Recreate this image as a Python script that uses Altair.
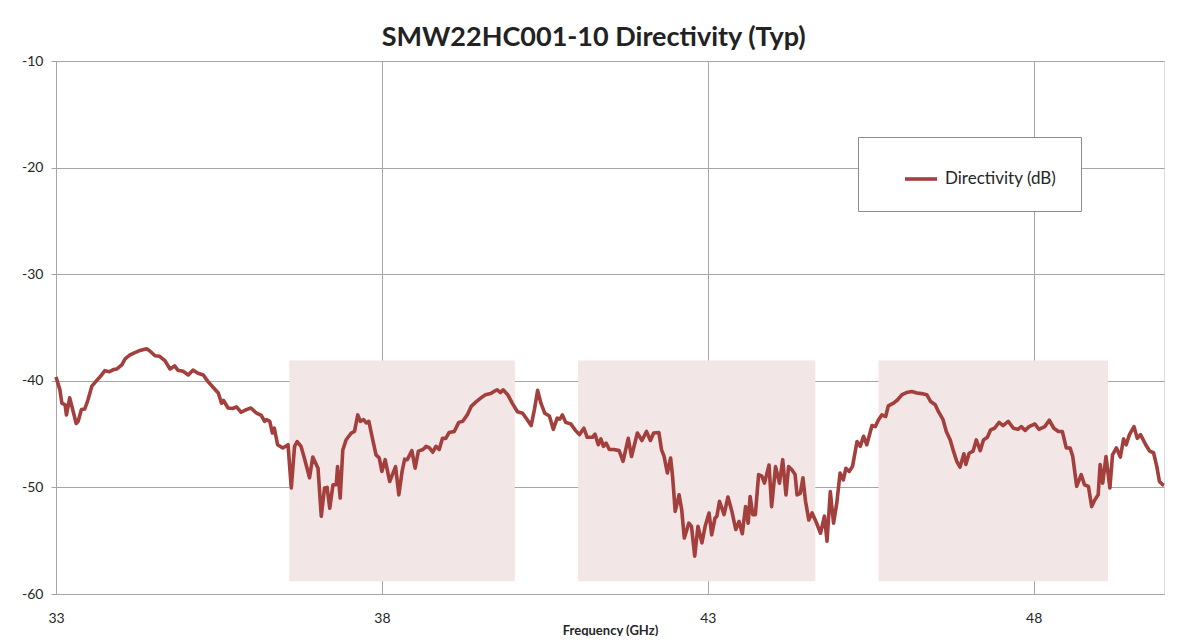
import altair as alt
import pandas as pd

# ---- data ----
freq_ghz = [
    33.00, 33.06, 33.09, 33.14, 33.16, 33.21, 33.25, 33.31, 33.34, 33.39,
    33.44, 33.49, 33.55, 33.62, 33.70, 33.75, 33.82, 33.88, 33.93, 34.01,
    34.06, 34.13, 34.21, 34.29, 34.39, 34.44, 34.52, 34.59, 34.67, 34.75,
    34.82, 34.87, 34.95, 35.03, 35.10, 35.18, 35.26, 35.33, 35.41, 35.49,
    35.54, 35.57, 35.64, 35.71, 35.77, 35.84, 35.92, 35.99, 36.07, 36.15,
    36.20, 36.23,
    36.28, 36.32, 36.35, 36.40, 36.48, 36.56, 36.61, 36.66, 36.70, 36.76,
    36.81, 36.89, 36.94, 37.02, 37.07, 37.12, 37.16, 37.20, 37.25, 37.30,
    37.32, 37.36, 37.40, 37.45, 37.53, 37.58, 37.63, 37.67, 37.72, 37.76,
    37.80, 37.86, 37.91, 37.96, 38.00, 38.05, 38.12, 38.21, 38.26, 38.31,
    38.35, 38.39, 38.46, 38.51, 38.56, 38.63, 38.68, 38.73, 38.78, 38.83,
    38.88, 38.93, 38.98, 39.03, 39.11, 39.18, 39.24, 39.31, 39.37, 39.44,
    39.52, 39.59, 39.67, 39.72, 39.77,
    39.82, 39.86, 39.93, 40.00, 40.08, 40.16, 40.23, 40.29, 40.34, 40.39,
    40.44, 40.50, 40.57, 40.63, 40.69, 40.73, 40.77, 40.82, 40.90, 40.97,
    41.03, 41.10, 41.15, 41.23, 41.27, 41.32, 41.36, 41.40, 41.44, 41.49,
    41.56, 41.64, 41.70, 41.78, 41.83, 41.92, 41.99, 42.06, 42.12, 42.17,
    42.25, 42.29, 42.33, 42.38, 42.43, 42.46, 42.50, 42.56, 42.60, 42.64,
    42.71, 42.75, 42.80, 42.85, 42.91, 42.96,
    43.02, 43.06, 43.11, 43.14, 43.18, 43.25, 43.31, 43.37, 43.43, 43.48,
    43.53, 43.58, 43.62, 43.65, 43.69, 43.73, 43.78, 43.83, 43.87, 43.94,
    43.98, 44.04, 44.10, 44.15, 44.20, 44.24, 44.29, 44.34, 44.37, 44.42,
    44.46, 44.50, 44.55, 44.60, 44.66, 44.73, 44.79, 44.83, 44.88, 44.93,
    44.98, 45.03, 45.08, 45.12, 45.17, 45.22, 45.29, 45.34, 45.39, 45.44,
    45.52, 45.57, 45.62, 45.67, 45.73, 45.77, 45.85, 45.91, 45.98, 46.05,
    46.13, 46.21, 46.28, 46.36, 46.42, 46.49,
    46.54, 46.61, 46.66, 46.72, 46.77, 46.82, 46.87, 46.93, 46.96, 47.01,
    47.07, 47.12, 47.18, 47.23, 47.29, 47.34, 47.40, 47.47, 47.53, 47.61,
    47.69, 47.76, 47.81, 47.87, 47.93, 48.02, 48.08, 48.17, 48.24, 48.31,
    48.38, 48.44, 48.50, 48.56, 48.60, 48.66, 48.73, 48.78, 48.84, 48.89,
    48.94, 48.99, 49.02, 49.06, 49.11, 49.17, 49.21, 49.27, 49.33, 49.38,
    49.42, 49.47, 49.54, 49.59, 49.64, 49.72, 49.78, 49.84, 49.89, 49.93,
    49.98, 50.00,
]
directivity_db = [
    -39.65, -40.85, -42.10, -42.25, -43.20, -41.60, -42.55, -44.00, -43.80, -42.70,
    -42.65, -41.80, -40.50, -40.00, -39.45, -39.05, -39.15, -38.95, -38.90, -38.50,
    -37.95, -37.60, -37.35, -37.15, -37.00, -37.20, -37.65, -37.70, -38.10, -38.90,
    -38.60, -39.00, -39.10, -39.45, -39.00, -39.30, -39.45, -40.05, -40.60, -41.15,
    -42.10, -41.85, -42.55, -42.60, -42.45, -42.95, -42.70, -42.55, -43.00, -43.25,
    -43.80, -43.65,
    -43.80, -44.90, -44.45, -46.00, -46.30, -46.00, -50.05, -46.15, -45.70, -46.15,
    -47.25, -49.10, -47.15, -48.20, -52.70, -50.05, -50.00, -51.95, -49.75, -49.75,
    -48.05, -51.00, -46.50, -45.55, -44.90, -44.75, -43.20, -43.80, -43.65, -43.95,
    -43.80, -45.55, -46.95, -47.25, -48.50, -47.40, -49.45, -48.05, -50.70, -48.50,
    -47.35, -47.40, -46.55, -48.20, -46.60, -46.45, -46.15, -46.30, -46.70, -46.15,
    -46.45, -45.40, -45.40, -44.85, -44.75, -43.90, -43.80, -43.20, -42.40, -42.00,
    -41.60, -41.30, -41.20, -41.00, -40.85,
    -41.10, -40.85, -41.30, -42.10, -42.90, -43.05, -43.65, -44.20, -42.70, -40.90,
    -42.10, -43.05, -43.30, -44.55, -43.50, -43.60, -43.20, -43.90, -44.05, -44.65,
    -45.05, -44.45, -45.30, -45.30, -45.00, -46.00, -45.45, -46.15, -45.85, -46.45,
    -46.45, -46.55, -47.55, -45.40, -47.10, -44.90, -45.60, -44.75, -45.60, -44.90,
    -44.85, -46.45, -47.10, -48.65, -47.25, -48.95, -52.25, -50.70, -52.10, -54.75,
    -53.35, -53.65, -56.45, -53.65, -55.20, -53.65,
    -52.40, -54.45, -52.90, -52.70, -51.30, -52.55, -50.90, -52.25, -53.95, -53.20,
    -54.35, -51.80, -53.35, -50.85, -52.55, -52.55, -48.80, -48.95, -49.60, -47.90,
    -51.80, -48.05, -49.60, -47.40, -50.70, -48.05, -48.35, -48.80, -50.70, -50.55,
    -49.10, -51.30, -53.05, -52.40, -53.20, -54.30, -52.70, -55.05, -50.40, -53.35,
    -51.45, -48.65, -49.30, -48.20, -48.50, -48.05, -45.70, -46.15, -45.20, -46.00,
    -44.20, -44.30, -43.65, -43.20, -43.35, -42.35, -42.10, -41.80, -41.30, -41.10,
    -41.00, -41.15, -41.20, -41.30, -41.95, -42.25,
    -42.90, -43.65, -44.75, -45.55, -46.60, -47.55, -48.10, -46.85, -47.85, -46.80,
    -46.60, -45.55, -46.55, -45.55, -45.30, -44.60, -44.45, -43.90, -44.20, -43.80,
    -44.45, -44.55, -44.30, -44.65, -44.30, -44.05, -44.55, -44.30, -43.70, -44.45,
    -44.75, -44.75, -46.30, -46.30, -47.10, -49.90, -48.80, -49.75, -49.90, -51.80,
    -51.15, -50.70, -47.85, -49.60, -47.10, -50.05, -46.95, -46.30, -47.15, -45.45,
    -46.00, -45.05, -44.30, -45.40, -45.05, -46.00, -46.60, -46.75, -48.05, -49.45,
    -49.75, -49.80,
]
series_name = "Directivity (dB)"

band_start_ghz = [36.58, 41.01, 45.62]
band_end_ghz = [40.04, 44.65, 49.14]
band_low_db = [-58.8, -58.8, -58.8]
band_high_db = [-38.1, -38.1, -38.1]

x_ticks = [33, 38, 43, 48]
y_ticks = [-60, -50, -40, -30, -20, -10]

# ---- tables ----
curve = pd.DataFrame({"freq": freq_ghz, "dir": directivity_db, "series": series_name})
bands = pd.DataFrame({"x0": band_start_ghz, "x1": band_end_ghz,
                      "y0": band_low_db, "y1": band_high_db})

FONT = "Lato"
GRID = "#A6A6A6"
LINE = "#A33F3C"
TEXT = "#262626"

x_scale = alt.Scale(domain=[33, 50], nice=False, zero=False)
y_scale = alt.Scale(domain=[-60, -10], nice=False, zero=False)

rects = alt.Chart(bands).mark_rect(color="#F2E6E6").encode(
    x=alt.X("x0:Q", scale=x_scale),
    x2="x1:Q",
    y=alt.Y("y0:Q", scale=y_scale),
    y2="y1:Q",
)

line = alt.Chart(curve).mark_line(strokeWidth=3.6, strokeJoin="round").encode(
    x=alt.X("freq:Q", scale=x_scale,
            axis=alt.Axis(values=x_ticks, format="d", title="Frequency (GHz)", grid=True,
                          gridColor=GRID, domainColor=GRID, ticks=False,
                          labelFlush=False, labelPadding=17, labelFontSize=14,
                          labelColor=TEXT, labelFont=FONT, titleFont=FONT,
                          titleFontSize=13, titleFontWeight="bold", titleColor=TEXT,
                          titleBaseline="alphabetic", titleY=40)),
    y=alt.Y("dir:Q", scale=y_scale,
            axis=alt.Axis(values=y_ticks, title=None, grid=True, gridColor=GRID,
                          domainColor=GRID, tickColor=GRID, tickSize=5,
                          labelExpr="'-' + abs(datum.value)",
                          labelPadding=8, labelFontSize=14, labelColor=TEXT,
                          labelFont=FONT)),
    color=alt.Color("series:N", scale=alt.Scale(range=[LINE]),
                    legend=alt.Legend(title=None, orient="none", legendX=802, legendY=76,
                                      symbolType="stroke", symbolSize=1024,
                                      symbolStrokeWidth=3.6, symbolOffset=21,
                                      labelOffset=6, labelFont=FONT, labelFontSize=17,
                                      labelColor=TEXT,
                                      fillColor="white", strokeColor="#8C8C8C",
                                      padding=24)),
    order="freq:Q",
)

chart = (rects + line).properties(
    width=1108,
    height=533,
    autosize=alt.AutoSizeParams(type="none"),
    padding={"left": 48, "top": 53, "right": 18, "bottom": 42},
    title=alt.TitleParams("SMW22HC001-10 Directivity (Typ)", font=FONT, fontSize=27,
                          fontWeight="bold", color="#222222", anchor="middle",
                          frame="bounds", offset=2),
).configure_view(stroke=GRID, strokeWidth=1).configure(background="white")

chart.save("out.html", embed_options={"renderer": "svg", "actions": False})
